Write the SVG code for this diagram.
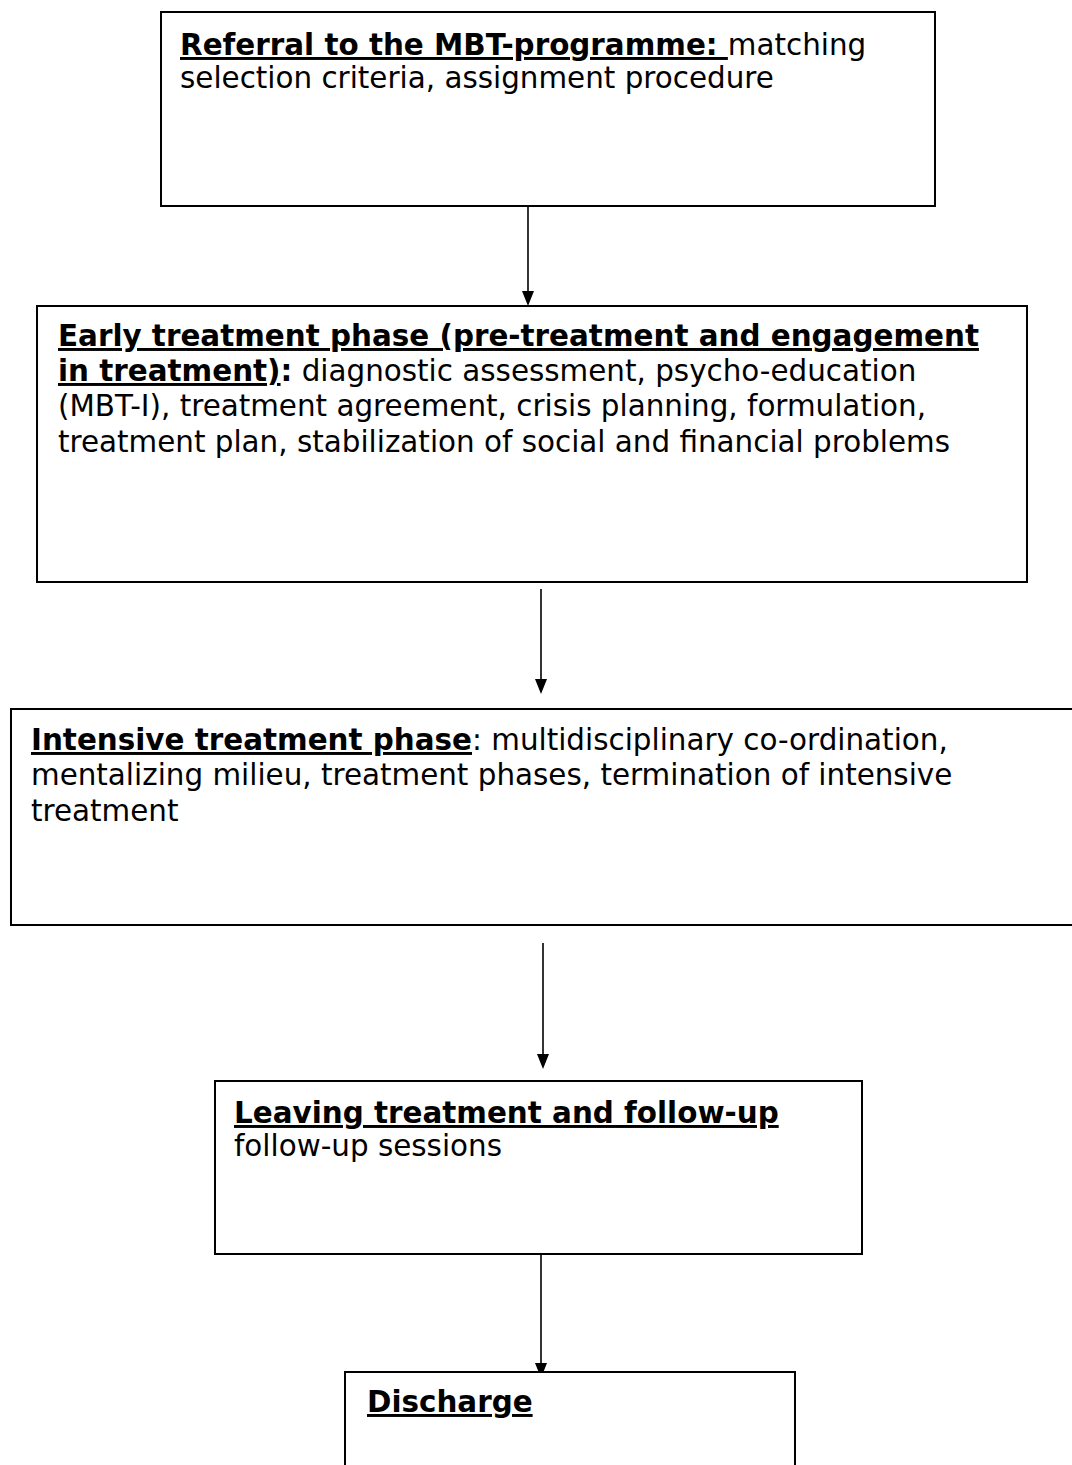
<svg xmlns="http://www.w3.org/2000/svg" width="1072" height="1465" viewBox="0 0 1072 1465">
<defs>
<style>
.box{fill:#fff;stroke:#000;stroke-width:2}
.t{font-family:"DejaVu Sans","Verdana",sans-serif;font-size:29.4px;fill:#000}
.b{font-weight:bold}
.u{text-decoration:underline}
.c{stroke:#000;stroke-width:1.6;fill:none}
.ah{fill:#000}
</style>
</defs>
<rect width="1072" height="1465" fill="#fff"/>
<g id="connectors">
<line class="c" x1="528" y1="206" x2="528" y2="295"/>
<path class="ah" d="M522,291 L534,291 L528,306 Z"/>
<line class="c" x1="541" y1="589" x2="541" y2="683"/>
<path class="ah" d="M535,679 L547,679 L541,694 Z"/>
<line class="c" x1="543" y1="943" x2="543" y2="1058"/>
<path class="ah" d="M537,1054 L549,1054 L543,1069 Z"/>
<line class="c" x1="541" y1="1254" x2="541" y2="1367"/>
<path class="ah" d="M535,1363 L547,1363 L541,1378 Z"/>
</g>
<g id="node1">
<rect class="box" x="161" y="12" width="774" height="194"/>
<text class="t" x="180" y="55"><tspan class="b u">Referral to the MBT-programme: </tspan>matching</text>
<text class="t" x="180" y="88">selection criteria, assignment procedure</text>
</g>
<g id="node2">
<rect class="box" x="37" y="306" width="990" height="276"/>
<text class="t" x="58" y="346"><tspan class="b u">Early treatment phase (pre-treatment and engagement</tspan></text>
<text class="t" x="58" y="381"><tspan class="b u">in treatment)</tspan><tspan class="b">:</tspan> diagnostic assessment, psycho-education</text>
<text class="t" x="58" y="416">(MBT-I), treatment agreement, crisis planning, formulation,</text>
<text class="t" x="58" y="452">treatment plan, stabilization of social and financial problems</text>
</g>
<g id="node3">
<rect class="box" x="11" y="709" width="1070" height="216"/>
<text class="t" x="31" y="750"><tspan class="b u">Intensive treatment phase</tspan>: multidisciplinary co-ordination,</text>
<text class="t" x="31" y="785">mentalizing milieu, treatment phases, termination of intensive</text>
<text class="t" x="31" y="821">treatment</text>
</g>
<g id="node4">
<rect class="box" x="215" y="1081" width="647" height="173"/>
<text class="t" x="234" y="1123"><tspan class="b u">Leaving treatment and follow-up</tspan></text>
<text class="t" x="234" y="1156">follow-up sessions</text>
</g>
<g id="node5">
<rect class="box" x="345" y="1372" width="450" height="120"/>
<text class="t" x="367" y="1412"><tspan class="b u">Discharge</tspan></text>
</g>
</svg>
